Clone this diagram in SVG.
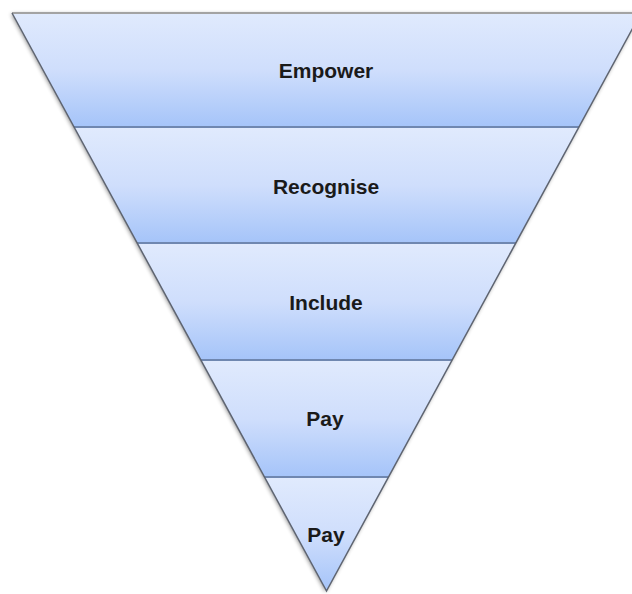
<svg xmlns="http://www.w3.org/2000/svg" width="632" height="594" viewBox="0 0 632 594">
  <style>
    .band { fill: url(#bandGrad); }
    .sep { stroke: #6f87b0; stroke-width: 2; fill: none; }
    .lbl { font-family: "Liberation Sans", Arial, sans-serif; font-weight: bold; font-size: 21px; fill: #1a1a1a; text-anchor: middle; }
  </style>
  <defs>
    <linearGradient id="bandGrad" x1="0" y1="0" x2="0" y2="1">
      <stop offset="0" stop-color="#e0eafd"/>
      <stop offset="0.5" stop-color="#cfdefc"/>
      <stop offset="1" stop-color="#a5c4f9"/>
    </linearGradient>
    <filter id="shadow" x="-10%" y="-10%" width="120%" height="120%">
      <feGaussianBlur in="SourceAlpha" stdDeviation="2"/>
      <feOffset dx="-1" dy="1" result="b"/>
      <feComponentTransfer><feFuncA type="linear" slope="0.45"/></feComponentTransfer>
      <feMerge><feMergeNode/><feMergeNode in="SourceGraphic"/></feMerge>
    </filter>
  </defs>

  <polygon points="12,13 641,13 326.5,591" fill="#ffffff" filter="url(#shadow)"/>

  <g id="band-empower">
    <polygon class="band" points="12,13 641,13 579,127 74,127"/>
    <line class="sep" x1="74" y1="127" x2="579" y2="127"/>
    <text class="lbl" x="326" y="78">Empower</text>
  </g>
  <g id="band-recognise">
    <polygon class="band" points="74,128 579,128 515.8,243 137.2,243"/>
    <line class="sep" x1="137" y1="243" x2="516" y2="243"/>
    <text class="lbl" x="326" y="194">Recognise</text>
  </g>
  <g id="band-include">
    <polygon class="band" points="137.2,244 515.8,244 452.2,360 200.8,360"/>
    <line class="sep" x1="201" y1="360" x2="452" y2="360"/>
    <text class="lbl" x="326" y="310">Include</text>
  </g>
  <g id="band-pay-1">
    <polygon class="band" points="200.8,361 452.2,361 388.5,477 264.5,477"/>
    <line class="sep" x1="264.5" y1="477" x2="388.5" y2="477"/>
    <text class="lbl" x="325" y="426">Pay</text>
  </g>
  <g id="band-pay-2">
    <polygon class="band" points="264.5,478 388.5,478 326.5,591"/>
    <text class="lbl" x="326" y="542">Pay</text>
  </g>

  <g id="outline" fill="none">
    <line x1="12" y1="13" x2="641" y2="13" stroke="#a3a3a3" stroke-width="2"/>
    <polyline points="12,13 326.5,591 641,13" stroke="#5e6470" stroke-width="1.5" stroke-linejoin="miter"/>
  </g>
</svg>
